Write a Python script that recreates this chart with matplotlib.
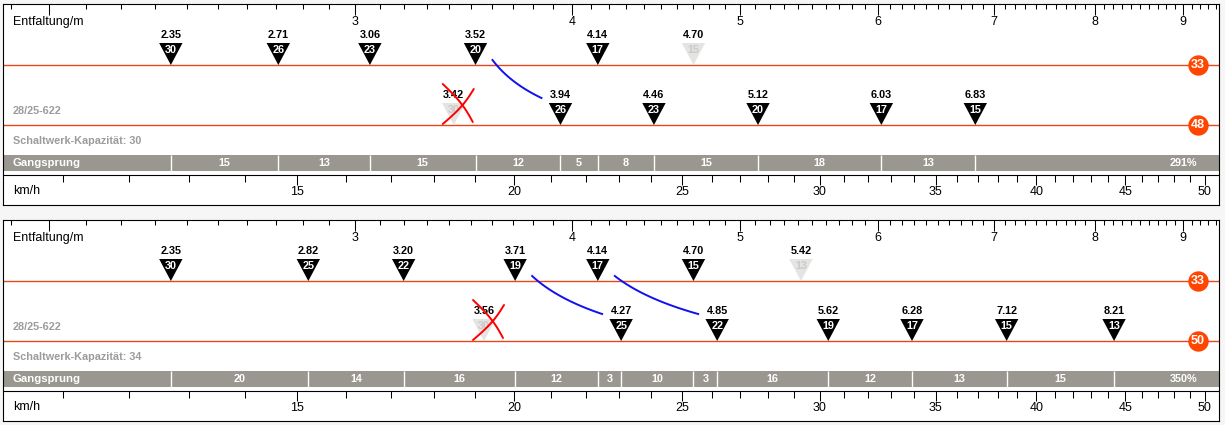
"""
Ritzel/Kettenblatt-Übersicht (Entfaltung & Gangsprung) - zwei Varianten
"""
import numpy as np
import matplotlib
matplotlib.use('Agg')
import matplotlib.pyplot as plt
from matplotlib.patches import Polygon, Rectangle

plt.rcParams['font.family'] = ['Liberation Sans', 'DejaVu Sans']

# ================== Daten ==================
KMH_PER_M = 5.4          # km/h je Meter Entfaltung bei 90 U/min
TYRE = '28/25-622'

# Variante 1
p1_rings = [33, 48]
p1_cogs = [30, 26, 23, 20, 17, 15]
p1_small_dev = [2.35, 2.71, 3.06, 3.52, 4.14, 4.70]
p1_big_dev = [3.42, 3.94, 4.46, 5.12, 6.03, 6.83]
p1_small_off = [15]          # ausgegraute Ritzel
p1_big_off = [30]            # durchgestrichen
p1_capacity = 30
p1_steps = [15, 13, 15, 12, 5, 8, 15, 18, 13]
p1_range = '291%'
p1_shifts = [(3.52, 3.94)]   # blaue Schaltwege

# Variante 2
p2_rings = [33, 50]
p2_cogs = [30, 25, 22, 19, 17, 15, 13]
p2_small_dev = [2.35, 2.82, 3.20, 3.71, 4.14, 4.70, 5.42]
p2_big_dev = [3.56, 4.27, 4.85, 5.62, 6.28, 7.12, 8.21]
p2_small_off = [13]
p2_big_off = [30]
p2_capacity = 34
p2_steps = [20, 14, 16, 12, 3, 10, 3, 16, 12, 13, 15]
p2_range = '350%'
p2_shifts = [(3.71, 4.27), (4.14, 4.85)]

# ================== Layout ==================
X_MIN, X_MAX = 1.881, 9.436
AX_W_PX = 1216
K = AX_W_PX / np.log(X_MAX / X_MIN)   # Pixel je ln-Einheit
PANEL_H = 201
ROW_TIP = [61, 121]
TRI_H, TRI_HW = 22, 11.7
BAND_TOP, BAND_BOT = 151, 167
KMH_LINE = 171

ORANGE = '#E8461B'
CIRCLE = '#FF4500'
BAND = '#9A9690'
GREY_TXT = '#9C9C9C'


def shift(d, dx):
    """Entfaltung d um dx Pixel verschieben"""
    return d * np.exp(dx / K)


def draw_panel(ax, rings, cogs, small_dev, big_dev, small_off, big_off,
               capacity, steps, total, shifts):
    ax.set_xscale('log')
    ax.set_xlim(X_MIN, X_MAX)
    ax.set_ylim(PANEL_H, 0)
    ax.tick_params(which='both', bottom=False, top=False, left=False,
                   right=False, labelbottom=False, labelleft=False)
    for s in ax.spines.values():
        s.set_linewidth(0.8)
        s.set_color('black')

    # Entfaltung-Skala oben
    for d in np.round(np.arange(1.9, 9.45, 0.1), 1):
        major = abs(d - round(d)) < 1e-6
        ax.vlines(d, 0, 11 if major else 5.3, color='black', lw=0.75)
        if major and d >= 3:
            ax.text(d, 18, f'{int(round(d))}', ha='center', va='center',
                    fontsize=9)
    ax.text(0.0082, 18, 'Entfaltung/m', transform=ax.get_yaxis_transform(),
            ha='left', va='center', fontsize=9)

    # Kettenblatt-Linien + Kreise
    yt = ax.get_yaxis_transform()
    for ring, tip in zip(rings, ROW_TIP):
        ax.axhline(tip, color=ORANGE, lw=1.0, zorder=1)
        ax.scatter([0.9827], [tip], s=215, color=CIRCLE, transform=yt,
                   zorder=4, clip_on=False, linewidths=0)
        ax.text(0.9827, tip, str(ring), transform=yt, ha='center',
                va='center', color='white', fontsize=9, fontweight='bold',
                zorder=5)

    # Ritzel-Dreiecke
    for devs, off, tip in [(small_dev, small_off, ROW_TIP[0]),
                           (big_dev, big_off, ROW_TIP[1])]:
        for cog, d in zip(cogs, devs):
            grey = cog in off
            tri = Polygon([(shift(d, -TRI_HW), tip - TRI_H),
                           (shift(d, TRI_HW), tip - TRI_H), (d, tip)],
                          closed=True, fc='#E4E4E2' if grey else 'black',
                          ec='none', zorder=2)
            ax.add_patch(tri)
            ax.text(d, tip - 15, str(cog), ha='center', va='center',
                    color='#CACACA' if grey else 'white', fontsize=7.8,
                    fontweight='bold', zorder=3)
            ax.text(d, tip - 30, f'{d:.2f}', ha='center', va='center',
                    fontsize=7.8, fontweight='bold', zorder=3)

    # Durchgestrichene Gänge (rotes X)
    for cog, d in zip(cogs, big_dev):
        if cog in big_off:
            cy = ROW_TIP[1] - 22
            for (ax0, ay0), (ax1, ay1) in [((-13, -19), (17, 19)),
                                           ((18, -14), (-13, 21))]:
                t = np.linspace(0, 1, 20)
                px = ax0 + (ax1 - ax0) * t + 3 * np.sin(np.pi * t)
                py = ay0 + (ay1 - ay0) * t
                ax.plot(shift(d, px + 2), cy + py, color='#FF0000',
                        lw=1.4, zorder=6, solid_capstyle='round')

    # Blaue Schaltwege
    for a, b in shifts:
        x0, y0 = 17, ROW_TIP[0] - 5
        x1 = K * np.log(b / a) - 19
        y1 = ROW_TIP[1] - 27
        cx, cy = x0 + 0.35 * (x1 - x0), y0 + 0.6 * (y1 - y0)
        t = np.linspace(0, 1, 40)
        px = (1 - t) ** 2 * x0 + 2 * (1 - t) * t * cx + t ** 2 * x1
        py = (1 - t) ** 2 * y0 + 2 * (1 - t) * t * cy + t ** 2 * y1
        ax.plot(shift(a, px), py, color='#1010F0', lw=1.4, zorder=6)

    # Reifen / Schaltwerk
    ax.text(0.0082, 107, TYRE, transform=yt, ha='left', va='center',
            fontsize=7.8, fontweight='bold', color=GREY_TXT)
    ax.text(0.0082, 137, f'Schaltwerk-Kapazität: {capacity}', transform=yt,
            ha='left', va='center', fontsize=7.8, fontweight='bold',
            color=GREY_TXT)

    # Gangsprung-Band
    ax.add_patch(Rectangle((0, BAND_TOP), 1, BAND_BOT - BAND_TOP,
                           transform=yt, fc=BAND, ec='none', zorder=1))
    ax.text(0.0082, (BAND_TOP + BAND_BOT) / 2, 'Gangsprung', transform=yt,
            ha='left', va='center', fontsize=8.2, fontweight='bold',
            color='white', zorder=3)
    active = sorted([d for c, d in zip(cogs, small_dev) if c not in small_off]
                    + [d for c, d in zip(cogs, big_dev) if c not in big_off])
    ax.vlines(active, BAND_TOP, BAND_BOT, color='white', lw=1.0, zorder=2)
    for lo, hi, st in zip(active[:-1], active[1:], steps):
        ax.text(np.sqrt(lo * hi), (BAND_TOP + BAND_BOT) / 2, str(st),
                ha='center', va='center', fontsize=7.8, fontweight='bold',
                color='white', zorder=3)
    ax.text(0.982, (BAND_TOP + BAND_BOT) / 2, total, transform=yt,
            ha='right', va='center', fontsize=7.8, fontweight='bold',
            color='white', zorder=3)

    # km/h-Skala unten
    ax.axhline(KMH_LINE, color='black', lw=0.8)
    for v in range(11, 51):
        major = v % 5 == 0
        ax.vlines(v / KMH_PER_M, KMH_LINE, 181 if major else 177.7,
                  color='black', lw=0.75)
        if major:
            ax.text(v / KMH_PER_M, 188, str(v), ha='center', va='center',
                    fontsize=9)
    ax.text(0.0082, 187.5, 'km/h', transform=yt, ha='left', va='center',
            fontsize=9)


fig = plt.figure(figsize=(12.25, 4.25), dpi=100, facecolor='#F6F6F6')
left, width = 3 / 1225, AX_W_PX / 1225
h = PANEL_H / 425
ax1 = fig.add_axes([left, (425 - 205) / 425, width, h], facecolor='white')
ax2 = fig.add_axes([left, (425 - 421) / 425, width, h], facecolor='white')

draw_panel(ax1, p1_rings, p1_cogs, p1_small_dev, p1_big_dev, p1_small_off,
           p1_big_off, p1_capacity, p1_steps, p1_range, p1_shifts)
draw_panel(ax2, p2_rings, p2_cogs, p2_small_dev, p2_big_dev, p2_small_off,
           p2_big_off, p2_capacity, p2_steps, p2_range, p2_shifts)

fig.savefig('out.png', dpi=100, facecolor=fig.get_facecolor())
